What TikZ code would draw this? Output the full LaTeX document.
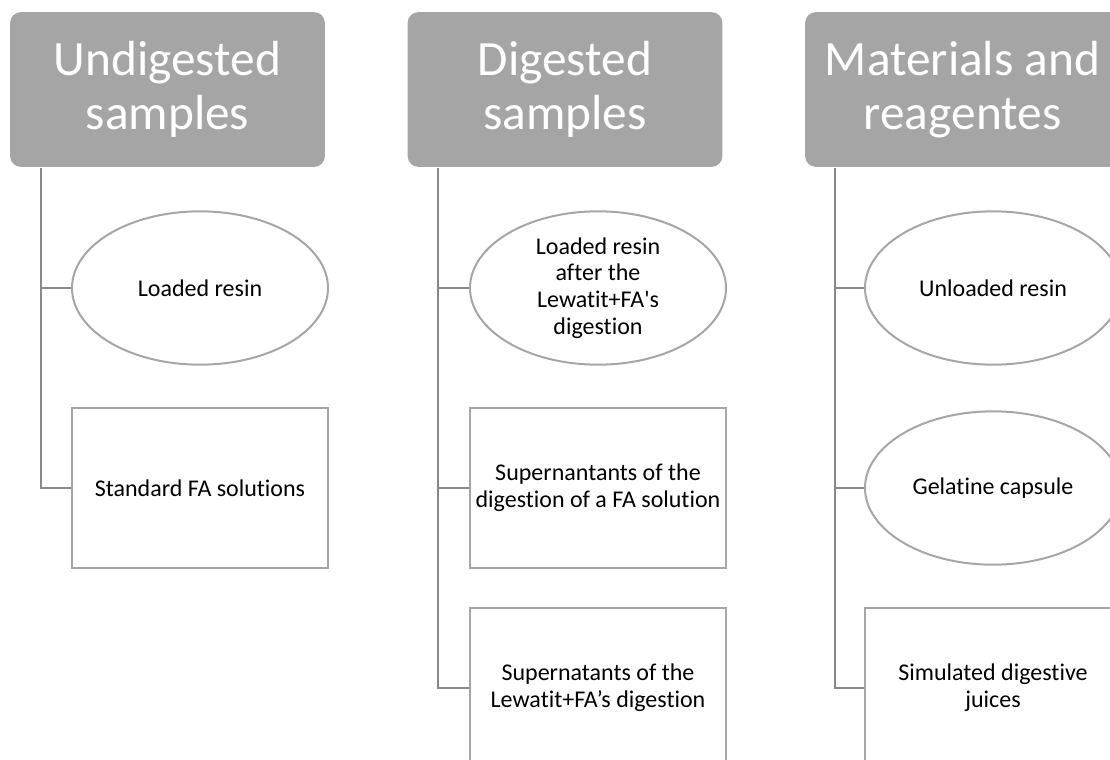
\documentclass[tikz,border=0pt]{standalone}
\usepackage{fontspec}
\setmainfont{Carlito}[Ligatures={TeXOff,NoCommon}]
\usetikzlibrary{shapes.geometric}
\definecolor{hd_grey}{RGB}{165, 165, 165}
\definecolor{ln_grey}{RGB}{137, 137, 137}
\definecolor{bd_grey}{RGB}{166, 166, 166}
\tikzstyle{hd}=[rectangle,rounded corners=8pt,fill=hd_grey,text=white,
  minimum width=236pt,minimum height=116pt,align=center,
  font=\fontsize{37}{40}\selectfont]
\tikzstyle{el}=[ellipse,draw=bd_grey,fill=white,line width=1.5pt,inner sep=0pt,
  minimum width=192pt,minimum height=115pt,align=center,
  font=\fontsize{18}{20}\selectfont]
\tikzstyle{bx}=[rectangle,draw=bd_grey,fill=white,line width=1.5pt,
  minimum width=192pt,minimum height=120pt,align=center,
  font=\fontsize{18}{20}\selectfont]
\tikzstyle{ln}=[draw=ln_grey,line width=1.5pt]
\tikzstyle{none}=[]

\begin{document}
\begin{tikzpicture}[x=0.75pt, y=-0.75pt]
		\useasboundingbox (0, 0) rectangle (1110, 760);
		\node [style=hd] (0) at (167.5, 89.5) {Undigested\\samples};
		\node [style=hd] (1) at (565, 89.5) {Digested\\samples};
		\node [style=hd] (2) at (962.5, 89.5) {Materials and\\reagentes};
		\node [style=el] (3) at (200, 288) {Loaded resin};
		\node [style=bx] (4) at (200, 488) {Standard FA solutions};
		\node [style=el] (5) at (598, 288) {Loaded resin\\after the\\Lewatit+FA's\\digestion};
		\node [style=bx] (6) at (598, 488) {Supernantants of the\\digestion of a FA solution};
		\node [style=bx] (7) at (598, 688) {Supernatants of the\\Lewatit+FA’s digestion};
		\node [style=el] (8) at (993, 288) {Unloaded resin};
		\node [style=el] (9) at (993, 488) {Gelatine capsule};
		\node [style=bx] (10) at (993, 688) {Simulated digestive\\juices};
		\node [style=none] (11) at (41, 168) {};
		\node [style=none] (12) at (438, 168) {};
		\node [style=none] (13) at (835, 168) {};
		\draw [style=ln] (11.center) |- (3.west);
		\draw [style=ln] (11.center) |- (4.west);
		\draw [style=ln] (12.center) |- (5.west);
		\draw [style=ln] (12.center) |- (6.west);
		\draw [style=ln] (12.center) |- (7.west);
		\draw [style=ln] (13.center) |- (8.west);
		\draw [style=ln] (13.center) |- (9.west);
		\draw [style=ln] (13.center) |- (10.west);
\end{tikzpicture}
\end{document}
